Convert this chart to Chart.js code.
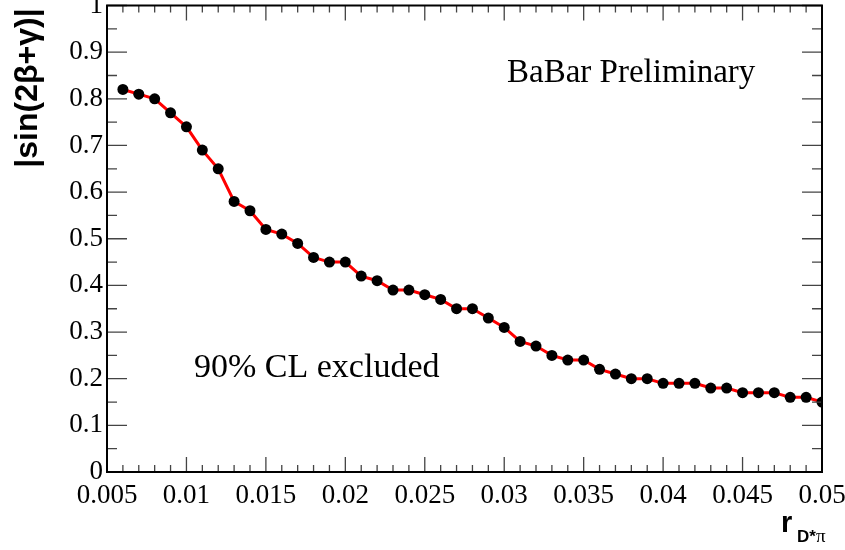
<!DOCTYPE html>
<html>
<head>
<meta charset="utf-8">
<script src="https://cdn.jsdelivr.net/npm/chart.js@4.4.1/dist/chart.umd.min.js"></script>
<style>
  html, body { margin: 0; padding: 0; background: #fff; }
  #wrap { width: 845px; height: 550px; }
</style>
</head>
<body>
<div id="wrap"><canvas id="chart"></canvas></div>
<script>
// Данные: r_{D*pi} и верхний предел |sin(2b+g)|
const rValues = [
    0.006, 0.007, 0.008, 0.009, 0.010, 0.011, 0.012, 0.013, 0.014, 0.015,
    0.016, 0.017, 0.018, 0.019, 0.020, 0.021, 0.022, 0.023, 0.024, 0.025,
    0.026, 0.027, 0.028, 0.029, 0.030, 0.031, 0.032, 0.033, 0.034, 0.035,
    0.036, 0.037, 0.038, 0.039, 0.040, 0.041, 0.042, 0.043, 0.044, 0.045,
    0.046, 0.047, 0.048, 0.049, 0.050
];
const sinLimit = [
    0.82, 0.81, 0.80, 0.77, 0.74, 0.69, 0.65, 0.58, 0.56, 0.52,
    0.51, 0.49, 0.46, 0.45, 0.45, 0.42, 0.41, 0.39, 0.39, 0.38,
    0.37, 0.35, 0.35, 0.33, 0.31, 0.28, 0.27, 0.25, 0.24, 0.24,
    0.22, 0.21, 0.20, 0.20, 0.19, 0.19, 0.19, 0.18, 0.18, 0.17,
    0.17, 0.17, 0.16, 0.16, 0.15
];
const xRange = [0.005, 0.05];
const yRange = [0, 1];
const plotLabels = ['BaBar Preliminary', '90% CL excluded'];

// Область графика (в пикселях)
const frame = { left: 107, top: 5, right: 822, bottom: 472 };
const serif = '"Liberation Serif", "Times New Roman", serif';
const sans = '"Liberation Sans", Arial, sans-serif';

// Плагин: рамка, внутренние засечки, подписи
const rootStyle = {
    id: 'rootStyle',
    afterDraw(chart) {
        const ctx = chart.ctx;
        const a = chart.chartArea;
        const xs = chart.scales.x;
        const ys = chart.scales.y;
        ctx.save();

        // засечки по X: основные каждые 0.005, малые каждые 0.001
        ctx.lineWidth = 1.3;
        ctx.strokeStyle = '#444';
        for (let i = 0; i <= 45; i++) {
            const v = xRange[0] + i * 0.001;
            const px = xs.getPixelForValue(v);
            const len = (i % 5 === 0) ? 15 : 7;
            ctx.beginPath();
            ctx.moveTo(px, a.bottom); ctx.lineTo(px, a.bottom - len);
            ctx.moveTo(px, a.top); ctx.lineTo(px, a.top + len);
            ctx.stroke();
        }
        // засечки по Y: основные каждые 0.1, малые каждые 0.05
        for (let i = 0; i <= 20; i++) {
            const v = i * 0.05;
            const py = ys.getPixelForValue(v);
            const len = (i % 2 === 0) ? 20 : 10;
            ctx.beginPath();
            ctx.moveTo(a.left, py); ctx.lineTo(a.left + len, py);
            ctx.moveTo(a.right, py); ctx.lineTo(a.right - len, py);
            ctx.stroke();
        }

        // рамка
        ctx.strokeStyle = '#000';
        ctx.lineWidth = 2;
        ctx.strokeRect(a.left, a.top, a.right - a.left, a.bottom - a.top);

        // текстовые подписи
        ctx.fillStyle = '#000';
        ctx.textAlign = 'left';
        ctx.textBaseline = 'alphabetic';
        ctx.font = '33px ' + serif;
        ctx.fillText(plotLabels[0], 507, 82);
        ctx.font = '34px ' + serif;
        ctx.fillText(plotLabels[1], 194, 377);

        // заголовок оси Y
        ctx.save();
        ctx.translate(28, 88);
        ctx.rotate(-Math.PI / 2);
        ctx.textAlign = 'center';
        ctx.textBaseline = 'middle';
        ctx.font = 'bold 32px ' + sans;
        ctx.fillText('|sin(2β+γ)|', 0, 0);
        ctx.restore();

        // заголовок оси X
        ctx.textAlign = 'left';
        ctx.textBaseline = 'alphabetic';
        ctx.font = 'bold 29px ' + sans;
        ctx.fillText('r', 781, 532);
        ctx.font = 'bold 17px ' + sans;
        ctx.fillText('D*', 797, 542);
        ctx.font = '19px ' + serif;
        ctx.fillText('π', 816, 542);
        ctx.restore();
    }
};

const ctx = document.getElementById('chart').getContext('2d');
new Chart(ctx, {
    type: 'line',
    data: {
        datasets: [{
            data: rValues.map((x, i) => ({ x: x, y: sinLimit[i] })),
            borderColor: '#ff0000',
            borderWidth: 3,
            pointRadius: 5.5,
            pointBackgroundColor: '#000',
            pointBorderColor: '#000',
            pointBorderWidth: 0,
            tension: 0,
            fill: false
        }]
    },
    options: {
        responsive: true,
        maintainAspectRatio: false,
        animation: false,
        layout: { padding: { left: 0, top: frame.top, right: 845 - frame.right, bottom: 0 } },
        plugins: {
            legend: { display: false },
            tooltip: { enabled: false }
        },
        scales: {
            x: {
                type: 'linear',
                min: xRange[0],
                max: xRange[1],
                border: { display: false },
                grid: { display: false, drawTicks: false },
                ticks: {
                    stepSize: 0.005,
                    padding: 8,
                    color: '#000',
                    maxRotation: 0,
                    font: { family: serif, size: 27 },
                    callback: v => String(Number(v.toFixed(3)))
                },
                afterFit: s => {
                    s.height = 550 - frame.bottom;
                    s.paddingLeft = 0; s.paddingRight = 0;
                }
            },
            y: {
                min: yRange[0],
                max: yRange[1],
                border: { display: false },
                grid: { display: false, drawTicks: false },
                ticks: {
                    stepSize: 0.1,
                    padding: 4,
                    color: '#000',
                    font: { family: serif, size: 27 },
                    callback: v => String(Number(v.toFixed(1)))
                },
                afterFit: s => {
                    s.width = frame.left;
                    s.paddingTop = 0; s.paddingBottom = 0;
                }
            }
        }
    },
    plugins: [rootStyle]
});
</script>
</body>
</html>
